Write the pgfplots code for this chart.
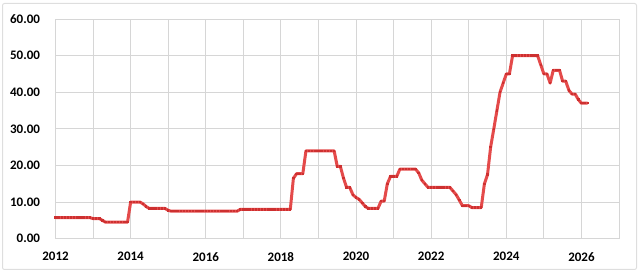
\documentclass[border=0pt]{standalone}
\usepackage{fontspec}
\setmainfont{Carlito}
\usepackage{pgfplots}
\pgfplotsset{compat=1.18}
\definecolor{linered}{RGB}{228,74,74}
\definecolor{markred}{RGB}{205,48,48}
\definecolor{gridgray}{RGB}{214,214,214}
\definecolor{framegray}{RGB}{222,222,222}
\begin{document}
\begin{tikzpicture}[x=1pt,y=1pt]
\useasboundingbox (0,0) rectangle (640,273);
\draw[framegray,line width=1pt,rounded corners=2pt] (2.5,3.5) rectangle (636.5,269.5);
\begin{axis}[
  at={(55.5pt,34.3pt)}, anchor=south west,
  scale only axis, width=563.5pt, height=219.7pt,
  xmin=2012, xmax=2027, ymin=0, ymax=60,
  xtick={2012,2014,...,2026}, minor xtick={2013,2015,...,2025},
  ytick={0,10,...,60},
  xmajorgrids, xminorgrids, ymajorgrids,
  grid style={gridgray, line width=0.9pt},
  minor grid style={gridgray, line width=0.9pt},
  axis line style={gridgray, line width=0.9pt},
  major tick length=0pt, minor tick length=0pt,
  tick style={draw=none},
  /pgf/number format/assume math mode=true,
  xticklabel style={font=\fontsize{13}{15}\selectfont\bfseries, /pgf/number format/1000 sep={}, yshift=-10pt},
  yticklabel style={font=\fontsize{13}{15}\selectfont\bfseries, /pgf/number format/fixed, /pgf/number format/fixed zerofill, /pgf/number format/precision=2, xshift=-12pt},
  scaled y ticks=false,
]
\addplot[linered, line width=3pt, line join=round, mark=square*, mark size=0.7pt, mark options={markred, line width=0pt}] table[x=t, y=r] {
t r
2012.000 5.75
2012.083 5.75
2012.167 5.75
2012.250 5.75
2012.333 5.75
2012.417 5.75
2012.500 5.75
2012.583 5.75
2012.667 5.75
2012.750 5.75
2012.833 5.75
2012.917 5.75
2013.000 5.50
2013.083 5.50
2013.167 5.50
2013.250 5.00
2013.333 4.50
2013.417 4.50
2013.500 4.50
2013.583 4.50
2013.667 4.50
2013.750 4.50
2013.833 4.50
2013.917 4.50
2014.000 10.00
2014.083 10.00
2014.167 10.00
2014.250 10.00
2014.333 9.50
2014.417 8.75
2014.500 8.25
2014.583 8.25
2014.667 8.25
2014.750 8.25
2014.833 8.25
2014.917 8.25
2015.000 7.75
2015.083 7.50
2015.167 7.50
2015.250 7.50
2015.333 7.50
2015.417 7.50
2015.500 7.50
2015.583 7.50
2015.667 7.50
2015.750 7.50
2015.833 7.50
2015.917 7.50
2016.000 7.50
2016.083 7.50
2016.167 7.50
2016.250 7.50
2016.333 7.50
2016.417 7.50
2016.500 7.50
2016.583 7.50
2016.667 7.50
2016.750 7.50
2016.833 7.50
2016.917 8.00
2017.000 8.00
2017.083 8.00
2017.167 8.00
2017.250 8.00
2017.333 8.00
2017.417 8.00
2017.500 8.00
2017.583 8.00
2017.667 8.00
2017.750 8.00
2017.833 8.00
2017.917 8.00
2018.000 8.00
2018.083 8.00
2018.167 8.00
2018.250 8.00
2018.333 16.50
2018.417 17.75
2018.500 17.75
2018.583 17.75
2018.667 24.00
2018.750 24.00
2018.833 24.00
2018.917 24.00
2019.000 24.00
2019.083 24.00
2019.167 24.00
2019.250 24.00
2019.333 24.00
2019.417 24.00
2019.500 19.75
2019.583 19.75
2019.667 16.50
2019.750 14.00
2019.833 14.00
2019.917 12.00
2020.000 11.25
2020.083 10.75
2020.167 9.75
2020.250 8.75
2020.333 8.25
2020.417 8.25
2020.500 8.25
2020.583 8.25
2020.667 10.25
2020.750 10.25
2020.833 15.00
2020.917 17.00
2021.000 17.00
2021.083 17.00
2021.167 19.00
2021.250 19.00
2021.333 19.00
2021.417 19.00
2021.500 19.00
2021.583 19.00
2021.667 18.00
2021.750 16.00
2021.833 15.00
2021.917 14.00
2022.000 14.00
2022.083 14.00
2022.167 14.00
2022.250 14.00
2022.333 14.00
2022.417 14.00
2022.500 14.00
2022.583 13.00
2022.667 12.00
2022.750 10.50
2022.833 9.00
2022.917 9.00
2023.000 9.00
2023.083 8.50
2023.167 8.50
2023.250 8.50
2023.333 8.50
2023.417 15.00
2023.500 17.50
2023.583 25.00
2023.667 30.00
2023.750 35.00
2023.833 40.00
2023.917 42.50
2024.000 45.00
2024.083 45.00
2024.167 50.00
2024.250 50.00
2024.333 50.00
2024.417 50.00
2024.500 50.00
2024.583 50.00
2024.667 50.00
2024.750 50.00
2024.833 50.00
2024.917 47.50
2025.000 45.00
2025.083 45.00
2025.167 42.50
2025.250 46.00
2025.333 46.00
2025.417 46.00
2025.500 43.00
2025.583 43.00
2025.667 40.50
2025.750 39.50
2025.833 39.50
2025.917 38.00
2026.000 37.00
2026.083 37.00
2026.167 37.00
};
\end{axis}
\end{tikzpicture}
\end{document}
